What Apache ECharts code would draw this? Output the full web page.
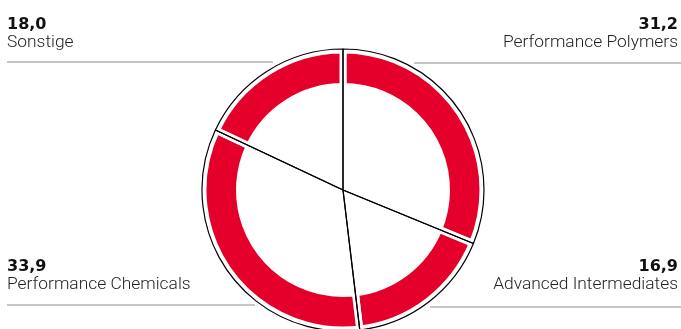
<!DOCTYPE html>
<html>
<head>
<meta charset="utf-8">
<script src="https://cdn.jsdelivr.net/npm/echarts@6/dist/echarts.min.js"></script>
<style>
html,body{margin:0;padding:0;background:#fff;}
#chart{width:681px;height:329px;}
</style>
</head>
<body>
<div id="chart"></div>
<script>
// Data
var categories = ['Performance Polymers', 'Advanced Intermediates', 'Performance Chemicals', 'Sonstige'];
var values = [31.2, 16.9, 33.9, 18.0];
var valueLabels = ['31,2', '16,9', '33,9', '18,0'];

var chart = echarts.init(document.getElementById('chart'), null, {renderer: 'canvas'});

var data = categories.map(function (c, i) { return { name: c, value: values[i] }; });

// label placement per category (layout only)
var layouts = [
  { x: 678, y: 16, align: 'right', line: [[414, 63], [414, 63], [681, 63]] },
  { x: 678, y: 258, align: 'right', line: [[430, 307], [430, 307], [681, 307]] },
  { x: 7, y: 258, align: 'left', line: [[255, 305], [255, 305], [7, 305]] },
  { x: 7, y: 16, align: 'left', line: [[273, 62], [273, 62], [7, 62]] }
];

var option = {
  animation: false,
  backgroundColor: '#fff',
  series: [
    {
      type: 'pie',
      center: [343, 190],
      radius: [103.5, 140],
      startAngle: 90,
      clockwise: true,
      silent: true,
      z: 2,
      data: data,
      itemStyle: { color: '#e4002b', borderColor: '#ffffff', borderWidth: 7 },
      label: {
        show: true,
        overflow: 'none',
        width: 400,
        formatter: function (p) {
          return '{v|' + valueLabels[p.dataIndex] + '}\n{n|' + p.name + '}';
        },
        rich: {
          v: { fontFamily: 'DejaVu Sans', fontWeight: 'bold', fontSize: 16, lineHeight: 17, color: '#111' },
          n: { fontFamily: 'Roboto', fontWeight: 300, fontSize: 17.4, lineHeight: 20, color: '#222' }
        }
      },
      labelLine: { show: true, lineStyle: { color: '#8c8c8c', width: 1 } },
      labelLayout: function (params) {
        var l = layouts[params.dataIndex];
        return {
          x: l.x, y: l.y, align: l.align, verticalAlign: 'top',
          labelLinePoints: l.line
        };
      }
    },
    {
      type: 'pie',
      center: [343, 190],
      radius: [0, 141],
      startAngle: 90,
      clockwise: true,
      silent: true,
      z: 3,
      data: data,
      label: { show: false },
      labelLine: { show: false },
      itemStyle: { color: 'rgba(0,0,0,0)', borderColor: '#000', borderWidth: 1.2 }
    }
  ]
};
chart.setOption(option);
</script>
</body>
</html>
